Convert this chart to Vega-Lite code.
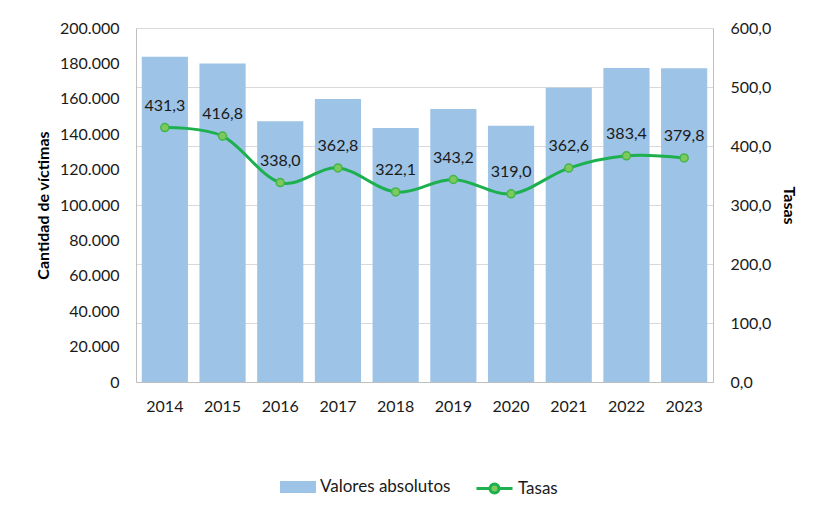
{
  "$schema": "https://vega.github.io/schema/vega-lite/v6.json",
  "autosize": "none",
  "width": 577,
  "height": 354,
  "padding": {"left": 136, "top": 28, "right": 105, "bottom": 126},
  "background": "white",
  "config": {
    "locale": {"number": {"decimal": ",", "thousands": ".", "grouping": [3], "currency": ["$", ""]}},
    "font": "Lato",
    "view": {"stroke": null},
    "axis": {"labelFont": "Lato", "labelFontSize": 16, "labelColor": "#1a1a1a", "titleFont": "Lato", "titleFontSize": 16, "titleFontWeight": "bold", "titleColor": "#000000", "domainColor": "#bfbfbf", "ticks": false, "labelOverlap": false}
  },
  "data": {"values": [
    {"year": "2014", "abs": 183800, "tasa": 431.3},
    {"year": "2015", "abs": 180000, "tasa": 416.8},
    {"year": "2016", "abs": 147300, "tasa": 338.0},
    {"year": "2017", "abs": 159900, "tasa": 362.8},
    {"year": "2018", "abs": 143500, "tasa": 322.1},
    {"year": "2019", "abs": 154200, "tasa": 343.2},
    {"year": "2020", "abs": 144800, "tasa": 319.0},
    {"year": "2021", "abs": 166300, "tasa": 362.6},
    {"year": "2022", "abs": 177400, "tasa": 383.4},
    {"year": "2023", "abs": 177200, "tasa": 379.8}
  ]},
  "encoding": {
    "x": {"field": "year", "type": "ordinal", "scale": {"paddingInner": 0.2, "paddingOuter": 0.1},
      "axis": {"title": null, "labelAngle": 0, "labelPadding": 16, "domainColor": "#bfbfbf"}}
  },
  "layer": [
    {
      "mark": {"type": "bar"},
      "encoding": {
        "y": {"field": "abs", "type": "quantitative", "scale": {"domain": [0, 200000]},
          "axis": {"title": "Cantidad de víctimas", "format": ",.0f", "values": [0,20000,40000,60000,80000,100000,120000,140000,160000,180000,200000], "grid": false, "labelPadding": 17, "titlePadding": 8, "labelOverlap": false}},
        "color": {"datum": "Valores absolutos", "type": "nominal", "scale": {"range": ["#9DC3E6"]},
          "legend": {"title": null, "orient": "none", "legendX": 144, "legendY": 441, "symbolType": "M-1,-0.33H1V0.33H-1Z", "symbolSize": 1296, "symbolStrokeWidth": 0, "labelFont": "Lato", "labelFontSize": 17, "labelColor": "#1a1a1a", "labelOffset": 4}}
      }
    },
    {
      "layer": [
        {
          "mark": {"type": "line", "interpolate": "cardinal", "strokeWidth": 3},
          "encoding": {
            "y": {"field": "tasa", "type": "quantitative", "scale": {"domain": [0, 600]},
              "axis": {"title": "Tasas", "orient": "right", "format": ".1f", "values": [0,100,200,300,400,500,600], "grid": true, "gridColor": "#d9d9d9", "labelPadding": 17, "titlePadding": 10}},
            "stroke": {"datum": "Tasas", "type": "nominal", "scale": {"range": ["#1DB04E"]},
              "legend": {"title": null, "orient": "none", "legendX": 339, "legendY": 441, "symbolType": "M-1,0H-0.25M0.25,0H1M-0.25,0A0.25,0.25 0 1,0 0.25,0A0.25,0.25 0 1,0 -0.25,0", "symbolSize": 1296, "symbolStrokeWidth": 3, "symbolFillColor": "#7DC95E", "labelFont": "Lato", "labelFontSize": 17, "labelColor": "#1a1a1a", "labelOffset": 4}}
          }
        },
        {
          "mark": {"type": "point", "filled": true, "size": 64, "color": "#7DC95E", "stroke": "#43B649", "strokeWidth": 1.5, "opacity": 1},
          "encoding": {
            "y": {"field": "tasa", "type": "quantitative", "scale": {"domain": [0, 600]}}
          }
        },
        {
          "mark": {"type": "text", "dy": -22, "fontSize": 16, "font": "Lato", "color": "#1a1a1a"},
          "encoding": {
            "y": {"field": "tasa", "type": "quantitative", "scale": {"domain": [0, 600]}},
            "text": {"field": "tasa", "type": "quantitative", "format": ".1f"}
          }
        }
      ]
    }
  ],
  "resolve": {"scale": {"y": "independent"}}
}
